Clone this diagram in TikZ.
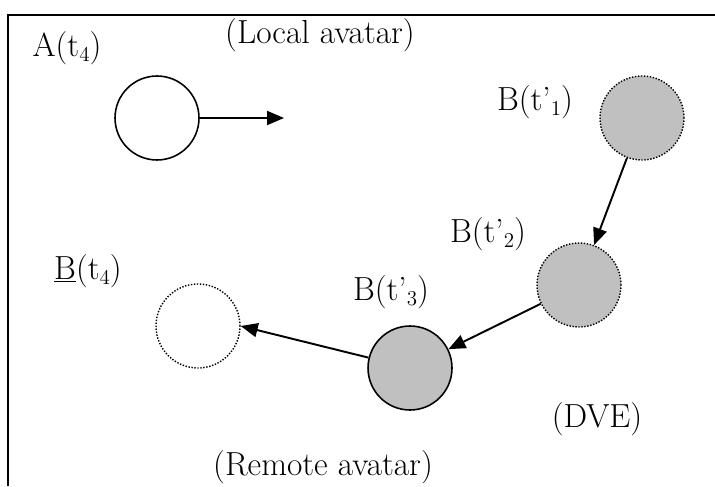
\documentclass[tikz,border=0pt]{standalone}
\usetikzlibrary{arrows.meta}
\definecolor{cAvatar}{RGB}{192,192,192}
\newcommand{\sub}[1]{\raisebox{-0.35ex}{\fontsize{12}{14}\selectfont #1}}

\begin{document}
\begin{tikzpicture}[x=0.02cm, y=-0.02cm,
    every node/.style={font=\fontsize{19}{22}\selectfont},
    avatar/.style={circle, draw=black, line width=0.9pt, minimum size=1.68cm, inner sep=0pt},
    ghost/.style={avatar, line width=0.8pt, dash pattern=on 0.8pt off 0.9pt},
    move/.style={-{Triangle[length=3.4mm,width=2.8mm]}, line width=1.1pt}]
  \useasboundingbox (0,0) rectangle (715,486);
  % frame (top and left edges)
  \draw[line width=1.4pt] (8,486) -- (8,15) -- (715,15);
  % local avatar
  \node (lbl) at (320,35) {(Local avatar)};
  \node (alab) at (67,48) {A(t\sub{4})};
  \node[avatar] (a) at (157,118) {};
  \coordinate (aend) at (284,118);
  \draw[move] (a.east) -- (aend);
  % remote avatar, received positions
  \node[ghost, fill=cAvatar] (b1) at (642,118) {};
  \node (b1lab) at (535,102) {B(t’\sub{1})};
  \node[ghost, fill=cAvatar] (b2) at (579,285) {};
  \node (b2lab) at (488,234) {B(t’\sub{2})};
  \node[avatar, fill=cAvatar] (b3) at (410,368) {};
  \node (b3lab) at (391,292) {B(t’\sub{3})};
  % extrapolated position
  \node[ghost, fill=white] (bx) at (198,326) {};
  \node (bxlab) at (88,271) {\underline{B}(t\sub{4})};
  % movement
  \draw[move] (b1) -- (b2);
  \draw[move] (b2) -- (b3);
  \draw[move] (b3.166) -- (bx.east);
  % captions
  \node (dve) at (597,419) {(DVE)};
  \node (rlbl) at (323,467) {(Remote avatar)};
\end{tikzpicture}
\end{document}
